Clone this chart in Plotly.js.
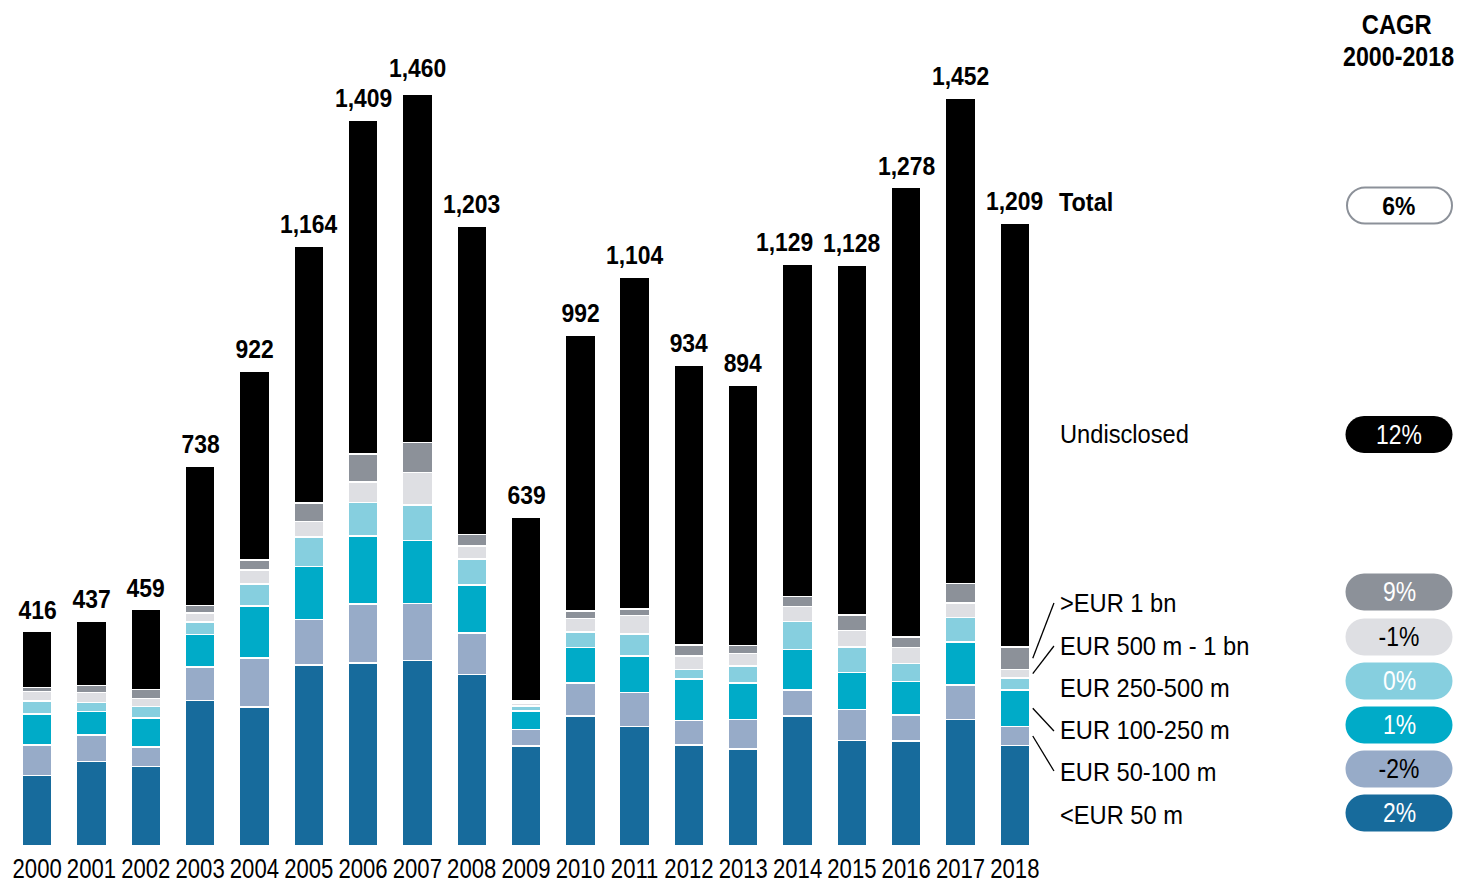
<!DOCTYPE html>
<html>
<head>
<meta charset="utf-8">
<script src="https://cdn.plot.ly/plotly-3.0.1.min.js"></script>
<style>html,body{margin:0;padding:0;background:#fff;}#chart{width:1457px;height:882px;}</style>
</head>
<body>
<div id="chart"></div>
<script>
// ---------- DATA ----------
const years = ["2000","2001","2002","2003","2004","2005","2006","2007","2008","2009","2010","2011","2012","2013","2014","2015","2016","2017","2018"];
const totals = [416,437,459,738,922,1164,1409,1460,1203,639,992,1104,934,894,1129,1128,1278,1452,1209];
const below50m   = [137,164,154,282,270,351,355,360,333,194,252,232,196,188,252,205,204,246,195];
const eur50_100m = [59,51,38,65,95,89,115,111,80,32,64,66,48,58,51,60,50,67,37];
const eur100_250m= [60,46,56,64,101,103,132,122,94,36,69,71,80,70,78,72,65,83,71];
const eur250_500m= [25,18,23,24,43,57,65,69,50,10,30,43,19,33,55,49,35,48,23];
const eur500m_1bn= [19,19,15,17,27,30,40,63,25,6,27,35,26,25,29,32,31,28,17];
const above1bn   = [8,14,18,15,19,36,54,58,23,3,14,13,21,15,19,30,21,38,43];
const undisclosed= [108,125,155,271,367,498,648,677,598,358,536,644,544,505,645,680,872,942,823];

const seriesNames = ["<EUR 50 m","EUR 50-100 m","EUR 100-250 m","EUR 250-500 m","EUR 500 m - 1 bn",">EUR 1 bn","Undisclosed"];
const cagrLabels = ["2%","-2%","1%","0%","-1%","9%","12%"];
const totalLabel = "Total";
const totalCagr = "6%";
const cagrTitle = ["CAGR", "2000-2018"];

// ---------- STYLE ----------
const colors = ["#176b9c","#97abc8","#00abc8","#86cfdf","#dedfe3","#8c9199","#000000"];
const pillText = ["#ffffff","#000000","#ffffff","#ffffff","#000000","#ffffff","#ffffff"];
const FONT = "'Liberation Sans', Arial, sans-serif";
const TICK_SCALE = 0.82;

const W = 1457, H = 882;
const M = {l: 10, r: 415, t: 30, b: 36};
const plotW = W - M.l - M.r, plotH = H - M.t - M.b;
const YMAX = 1584;
const px2x = px => (px - M.l) / plotW;         // pixel -> paper x
const py2y = py => (H - M.b - py) / plotH;      // pixel -> paper y
const py2data = py => (H - M.b - py) / plotH * YMAX;
const cat2x = c => (c + 0.5) / years.length;    // category position -> paper x

const series = [below50m, eur50_100m, eur100_250m, eur250_500m, eur500m_1bn, above1bn, undisclosed];

const traces = series.map((vals, i) => ({
  type: "bar",
  x: years,
  y: vals,
  name: seriesNames[i],
  marker: {color: colors[i], line: {color: "#ffffff", width: 1.5}},
  hoverinfo: "x+y+name",
  showlegend: false
}));

const annotations = [];
const annScale = [];
function addAnn(a, s) { annotations.push(a); annScale.push(s); }

// small label nudges to avoid overlaps: [index, dx, dy]
const labelNudge = {7: [0, 4], 14: [-13, 0]};

years.forEach((yr, i) => {
  const n = labelNudge[i] || [0, 0];
  addAnn({
    x: i, y: totals[i], xref: "x", yref: "y",
    text: totals[i].toLocaleString("en-US"),
    showarrow: false, xanchor: "center", yanchor: "bottom",
    xshift: n[0], yshift: 5 + n[1],
    font: {family: FONT, size: 26, color: "#000", weight: 700}
  }, 0.88);
});

// right-hand labels (text y positions in pixels)
const labelPy = [815, 772, 730, 688, 646, 603, 434];
const pillPy  = [813, 769, 725, 681, 637, 592, 434.5];
seriesNames.forEach((nm, i) => {
  addAnn({
    x: px2x(1058), y: py2y(labelPy[i]), xref: "paper", yref: "paper",
    text: nm, showarrow: false, xanchor: "left", yanchor: "middle",
    font: {family: FONT, size: 26, color: "#000"}
  }, 0.91);
  addAnn({
    x: px2x(1399), y: py2y(pillPy[i]), xref: "paper", yref: "paper",
    text: cagrLabels[i], showarrow: false, xanchor: "center", yanchor: "middle",
    font: {family: FONT, size: 27, color: pillText[i]}
  }, 0.85);
});
addAnn({
  x: px2x(1057), y: py2y(202), xref: "paper", yref: "paper",
  text: totalLabel, showarrow: false, xanchor: "left", yanchor: "middle",
  font: {family: FONT, size: 26, color: "#000", weight: 700}
}, 0.9);
addAnn({
  x: px2x(1399), y: py2y(206), xref: "paper", yref: "paper",
  text: totalCagr, showarrow: false, xanchor: "center", yanchor: "middle",
  font: {family: FONT, size: 26, color: "#000", weight: 700}
}, 0.88);
addAnn({
  x: px2x(1397), y: py2y(25), xref: "paper", yref: "paper",
  text: cagrTitle[0], showarrow: false, xanchor: "center", yanchor: "middle",
  font: {family: FONT, size: 27, color: "#000", weight: 700}
}, 0.88);
addAnn({
  x: px2x(1398), y: py2y(57), xref: "paper", yref: "paper",
  text: cagrTitle[1], showarrow: false, xanchor: "center", yanchor: "middle",
  font: {family: FONT, size: 27, color: "#000", weight: 700}
}, 0.86);

// pill shapes
function pillPath(w, h) {
  const r = h / 2, a = w / 2 - r, k = 0.5523 * r;
  return `M ${-a},${-r} L ${a},${-r} C ${a+k},${-r} ${a+r},${-k} ${a+r},0 C ${a+r},${k} ${a+k},${r} ${a},${r} ` +
         `L ${-a},${r} C ${-a-k},${r} ${-a-r},${k} ${-a-r},0 C ${-a-r},${-k} ${-a-k},${-r} ${-a},${-r} Z`;
}
const shapes = [];
pillPy.forEach((py, i) => {
  shapes.push({
    type: "path", xref: "paper", yref: "paper",
    xsizemode: "pixel", ysizemode: "pixel",
    xanchor: px2x(1399), yanchor: py2y(py),
    path: pillPath(107, 37),
    fillcolor: colors[i], line: {width: 0}, layer: "below"
  });
});
shapes.push({
  type: "path", xref: "paper", yref: "paper",
  xsizemode: "pixel", ysizemode: "pixel",
  xanchor: px2x(1399.5), yanchor: py2y(205.5),
  path: pillPath(105, 36),
  fillcolor: "#ffffff", line: {color: "#8c9199", width: 2}, layer: "below"
});

// leader lines from 2018 segments to labels
const last = years.length - 1;
function segMid(idx) {
  let base = 0;
  for (let s = 0; s < idx; s++) base += series[s][last];
  return base + series[idx][last] / 2;
}
const leaders = [[5, 603], [4, 646], [2, 731], [1, 771]];
leaders.forEach(([idx, py]) => {
  shapes.push({
    type: "line", xref: "paper", yref: "y",
    x0: cat2x(last + 0.33), y0: segMid(idx), x1: cat2x(last + 0.72), y1: py2data(py),
    line: {color: "#000", width: 1.3}
  });
});

const layout = {
  width: W, height: H,
  margin: M,
  paper_bgcolor: "#fff", plot_bgcolor: "#fff",
  barmode: "stack",
  bargap: 0.45,
  showlegend: false,
  xaxis: {
    type: "category", showgrid: false, zeroline: false, showline: false,
    ticks: "", tickangle: 0, ticklabelstandoff: 4,
    tickfont: {family: FONT, size: 27, color: "#000"},
    range: [-0.5, years.length - 0.5], fixedrange: true
  },
  yaxis: {
    range: [0, YMAX], visible: false, showgrid: false, zeroline: false, fixedrange: true
  },
  annotations: annotations,
  shapes: shapes,
  font: {family: FONT}
};

// condense text horizontally to mimic the narrow typeface of the original
function condense(gd) {
  gd.querySelectorAll("svg text").forEach(t => {
    if (!t.textContent) return;
    const bb = t.getBBox();
    let ox = bb.x + bb.width / 2;
    let s = TICK_SCALE;
    const ann = t.closest("g.annotation");
    if (ann) {
      const idx = +ann.getAttribute("data-index");
      const a = layout.annotations[idx];
      if (annScale[idx]) s = annScale[idx];
      if (a && a.xanchor === "left") ox = bb.x;
      else if (a && a.xanchor === "right") ox = bb.x + bb.width;
    }
    const T = t.getAttribute("transform") || "";
    t.setAttribute("transform", `${T} translate(${ox},0) scale(${s},1) translate(${-ox},0)`);
  });
}

const gd = document.getElementById("chart");
Plotly.newPlot(gd, traces, layout, {displayModeBar: false, staticPlot: true}).then(() => condense(gd));
</script>
</body>
</html>
